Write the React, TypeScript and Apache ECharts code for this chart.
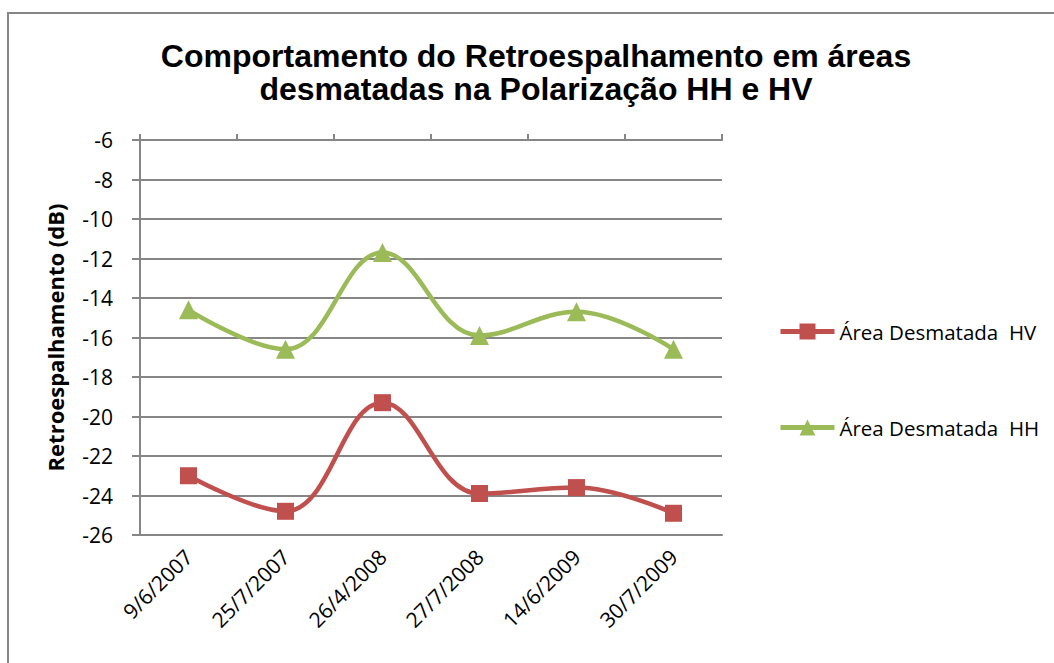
import React, { useEffect, useRef } from "react";
import * as echarts from "echarts";

// Acquisition dates on the horizontal axis
const dates = ["9/6/2007", "25/7/2007", "26/4/2008", "27/7/2008", "14/6/2009", "30/7/2009"];

// Backscatter values (dB) per polarization
const hvValues = [-23.0, -24.8, -19.3, -23.9, -23.6, -24.9];
const hhValues = [-14.6, -16.6, -11.7, -15.9, -14.7, -16.6];

const seriesNames = ["Área Desmatada  HV", "Área Desmatada  HH"];

const yMin = -26;
const yMax = -6;
const yStep = 2;

const labelFont = "'Open Sans', Lato, sans-serif";
const gridGray = "#868686";

export default function App() {
  const ref = useRef<HTMLDivElement>(null);

  useEffect(() => {
    if (!ref.current) return;
    const chart = echarts.init(ref.current, undefined, { renderer: "svg" });
    chart.setOption({
      animation: false,
      backgroundColor: "#ffffff",
      graphic: [
        {
          type: "rect",
          shape: { x: 8, y: 13, width: 1100, height: 700 },
          style: { fill: "none", stroke: gridGray, lineWidth: 2 },
          silent: true,
        },
        {
          type: "text",
          x: 536,
          y: 72,
          style: {
            text: "Comportamento do Retroespalhamento em áreas\ndesmatadas na Polarização HH e HV",
            font: "bold 32px 'Liberation Sans', Arial, sans-serif",
            fill: "#000000",
            align: "center",
            verticalAlign: "middle",
            lineHeight: 33,
          },
        },
      ],
      legend: {
        orient: "vertical",
        left: 773,
        top: 316,
        itemGap: 75,
        itemWidth: 54,
        itemHeight: 20,
        data: seriesNames,
        lineStyle: { width: 5 },
        textStyle: { fontFamily: labelFont, fontSize: 20.5, color: "#000000" },
      },
      grid: { left: 140, right: 332, top: 140, bottom: 128 },
      xAxis: [
        {
          type: "category",
          data: dates,
          position: "bottom",
          boundaryGap: true,
          axisLine: { show: true, lineStyle: { color: gridGray, width: 2 } },
          axisTick: { show: false },
          axisLabel: {
            rotate: 45,
            margin: 18,
            fontFamily: labelFont,
            fontSize: 21,
            color: "#000000",
          },
        },
        {
          type: "category",
          data: dates,
          position: "top",
          boundaryGap: true,
          axisLine: { show: true, lineStyle: { color: gridGray, width: 2 } },
          axisTick: { show: true, length: 6, inside: false, lineStyle: { color: gridGray, width: 2 } },
          axisLabel: { show: false },
        },
      ],
      yAxis: {
        type: "value",
        min: yMin,
        max: yMax,
        interval: yStep,
        name: "Retroespalhamento (dB)",
        nameLocation: "middle",
        nameRotate: 90,
        nameGap: 74,
        nameTextStyle: {
          fontFamily: labelFont,
          fontWeight: "bold",
          fontSize: 22,
          color: "#000000",
        },
        axisLine: { show: true, lineStyle: { color: gridGray, width: 2 } },
        axisTick: { show: true, length: 8, lineStyle: { color: gridGray, width: 2 } },
        axisLabel: { margin: 27, fontFamily: labelFont, fontSize: 21, color: "#000000" },
        splitLine: { show: true, lineStyle: { color: gridGray, width: 2 } },
      },
      series: [
        {
          name: seriesNames[0],
          type: "line",
          data: hvValues,
          smooth: 0.4,
          symbol: "rect",
          symbolSize: 17,
          color: "#C0504D",
          lineStyle: { width: 4.5, color: "#C0504D" },
          itemStyle: { color: "#C0504D" },
        },
        {
          name: seriesNames[1],
          type: "line",
          data: hhValues,
          smooth: 0.4,
          symbol: "triangle",
          symbolSize: 19,
          color: "#9BBB59",
          lineStyle: { width: 4.5, color: "#9BBB59" },
          itemStyle: { color: "#9BBB59" },
        },
      ],
    });
    return () => chart.dispose();
  }, []);

  return (
    <div
      ref={ref}
      style={{ position: "fixed", left: 0, top: 0, width: 1054, height: 663 }}
    />
  );
}
